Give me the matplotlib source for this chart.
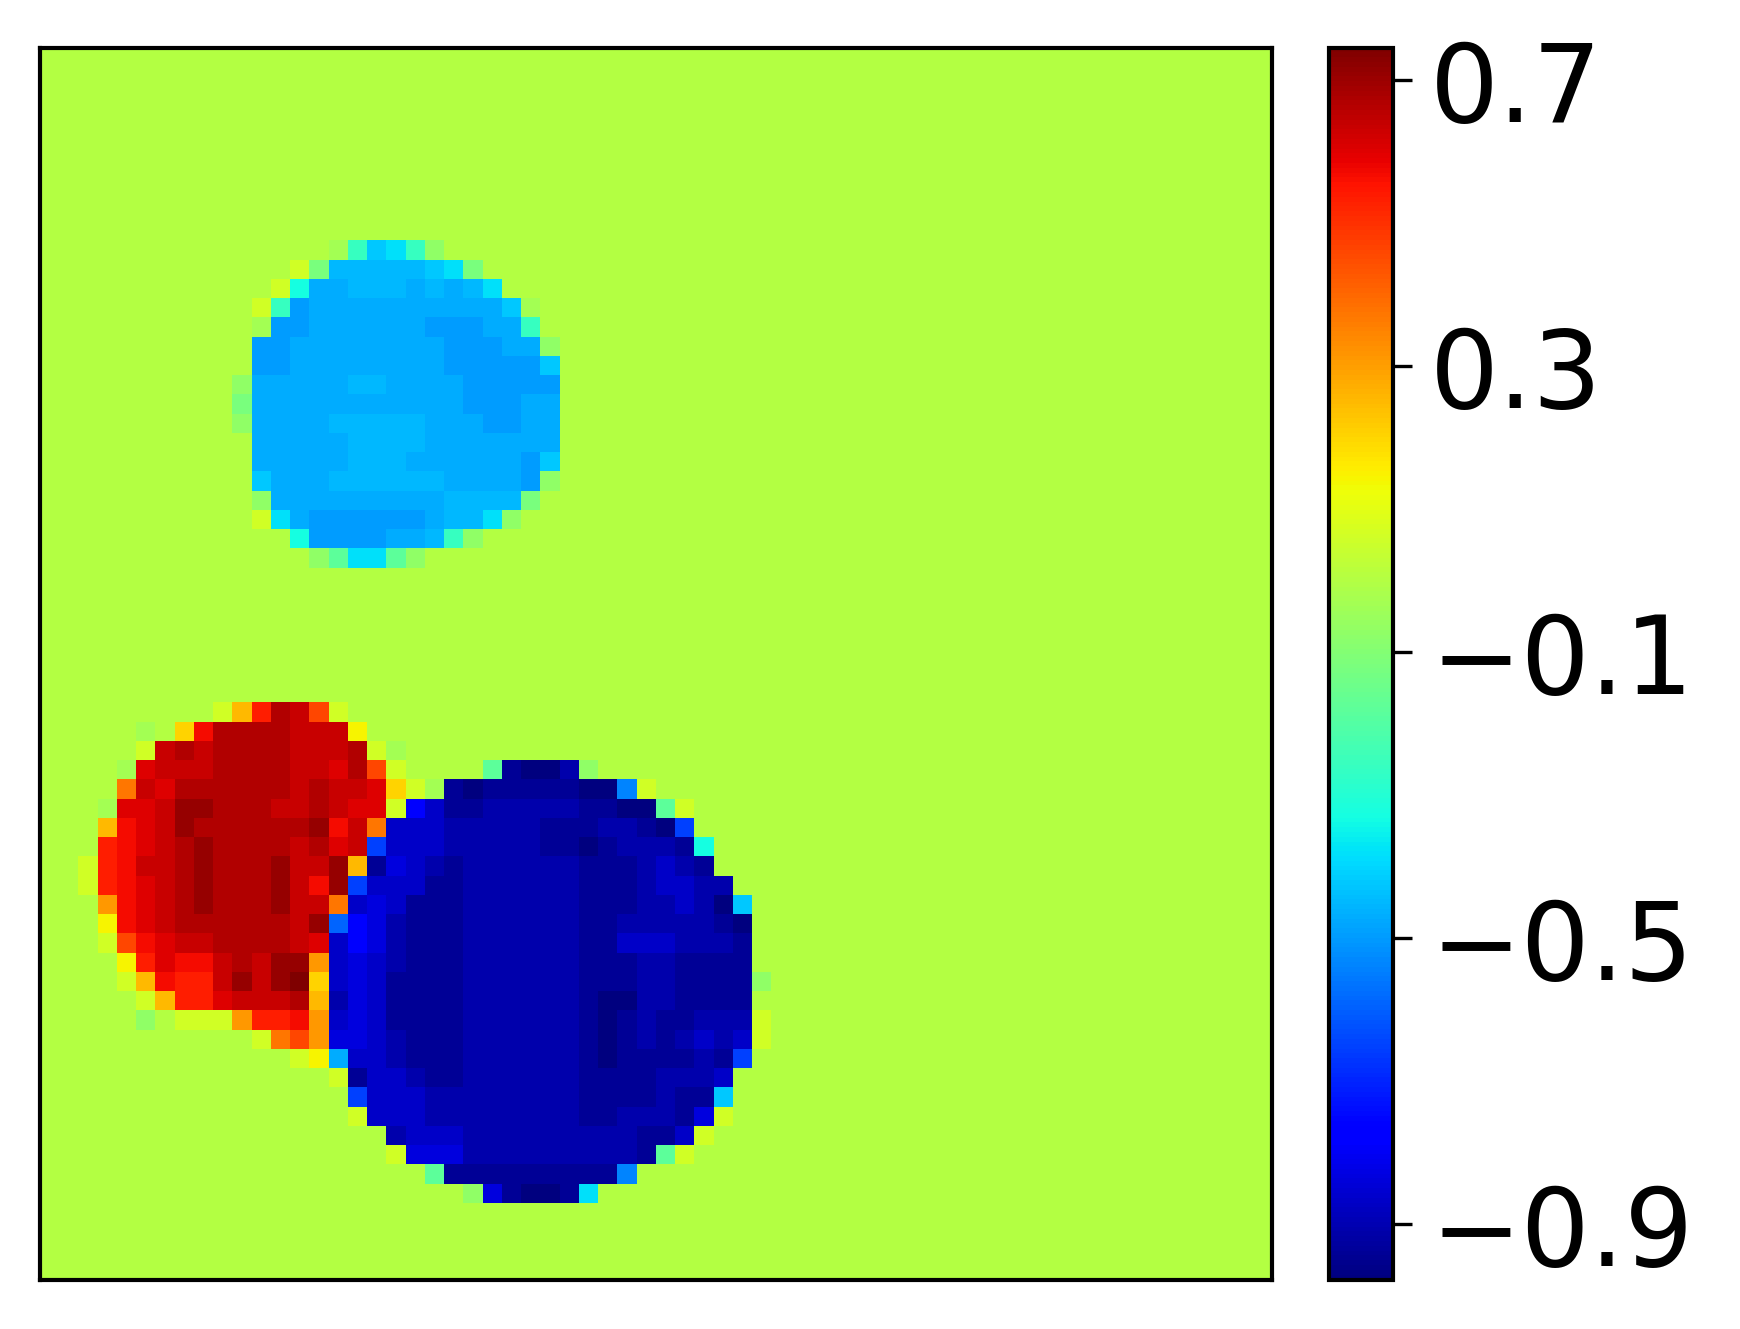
import numpy as np
import matplotlib
matplotlib.use("Agg")
from matplotlib import pyplot as plt

# grid size of the field
N = 64

# value of each colour code
LEVELS = {
    ".": 0.0, ",": -0.03, "g": -0.07, "G": -0.12, "h": -0.18,
    "t": -0.26, "T": -0.33, "C": -0.38, "c": -0.42, "b": -0.45,
    "B": -0.468, "L": -0.495, "l": -0.54, "K": -0.59, "k": -0.65,
    "M": -0.78, "m": -0.83, "n": -0.87, "d": -0.905, "D": -0.94,
    "E": -0.978,
    "y": 0.06, "Y": 0.14, "A": 0.20, "a": 0.25, "o": 0.31,
    "O": 0.37, "r": 0.46, "R": 0.53, "0": 0.57, "1": 0.60,
    "2": 0.635, "3": 0.67, "4": 0.71, "5": 0.745,
}

# (row, first column, codes) -- everything else is background "."
PATCHES = [
    # upper light-blue disc
    (10, 15, ",tcCtg"),
    (11, 13, "yGbbbbbcCG"),
    (12, 12, "yTBBbbbBbBbC"),
    (13, 11, "ytLBBBBBBBBBBc,"),
    (14, 11, ",LLBBBBBBLLLBBt"),
    (15, 11, "LLBBBBBBBBLLLBBg"),
    (16, 11, "LLBBBBBBBBLLLLLc"),
    (17, 10, "gBBBBBbbBBBBLLLLL"),
    (18, 10, "GBBBBBBBBBBBLLLBB"),
    (19, 10, "gBBBBbbbbbBBBLLBB"),
    (20, 11, "BBBBBbbbbBBBBBBB"),
    (21, 11, "BBBBBbbbBBBBBBLc"),
    (22, 11, "cBBBbbbbbbBBBBLg"),
    (23, 11, "gBBBBBBBBBbbbbG"),
    (24, 11, "yCBLLLLLLBbbCg"),
    (25, 13, "TLLLLBBbtg"),
    (26, 14, "ghCChg"),
    # red disc and dark-blue disc
    (34, 9, "yaR32ry"),
    (35, 5, ",.A03333222Y"),
    (36, 5, "y23233332223y,"),
    (37, 4, ",122233332213ry"),
    (37, 23, "hDEEdg"),
    (38, 4, "O2133333323221Ay,DEDDDDDEEly"),
    (39, 3, ",11244333223211yMnDDdddddDDEEhy"),
    (40, 3, "a0124333333402OnnndddddDDDddDEk"),
    (41, 3, "R0123433332312knnndddddDDEDdddDT"),
    (42, 2, "yR022343334224aDmndDddddddDDDdndD"),
    (43, 2, "yR012343334204knnnDDddddddDDDdnndd"),
    (44, 3, "o01234333422OnmnDDDddddddDDDddndEc"),
    (45, 3, "Y01233333324KMmdDDDddddddDDdddddDE"),
    (46, 3, "yr0122333321nMmdDDDddddddDDnnndddD"),
    (47, 4, "YR10023244onmndDDDddddddDDDddDDDD"),
    (48, 4, "ya0RR24245AnmnDDDDddddddDDDddDDDDg"),
    (49, 5, "yaRR12223admnDDDDddddddDEEddDDDD"),
    (50, 5, "g.yyyoRR0onmnDDDDddddddDEDdDDdddy"),
    (51, 11, "yOrommndDDDddddddDEDdDdndny"),
    (52, 13, "yYBnndDDDddddddDEDDDDdDk"),
    (53, 15, "yDnndDDddddddDDDDdddn"),
    (54, 16, "knnnddddddddDDDDdDDc"),
    (55, 16, "ynnnddddddddDDdddDmy"),
    (56, 18, "dnnndddddddddDDny"),
    (57, 18, "ymmmdddddddddDhy"),
    (58, 20, "hDDDDDDDDDl"),
    (59, 22, "gmDEEDC"),
]

CBAR_TICKS = [0.7, 0.3, -0.1, -0.5, -0.9]

grid = np.full((N, N), LEVELS["."])
for row, col, run in PATCHES:
    for k, ch in enumerate(run):
        grid[row, col + k] = LEVELS[ch]

fig = plt.figure(figsize=(5.8, 4.4333), dpi=300)
ax = fig.add_axes([0.0228, 0.0372, 0.708, 0.9263])
cax = fig.add_axes([0.764, 0.0372, 0.0363, 0.9263])

im = ax.imshow(grid, cmap="jet", aspect="auto", interpolation="nearest")
ax.set_xticks([])
ax.set_yticks([])
for sp in ax.spines.values():
    sp.set_linewidth(1.0)

cb = fig.colorbar(im, cax=cax, ticks=CBAR_TICKS)
cb.outline.set_linewidth(1.0)
cax.tick_params(labelsize=26, length=4.5, width=0.8, pad=4.5)

fig.savefig("out.png", dpi=300)
